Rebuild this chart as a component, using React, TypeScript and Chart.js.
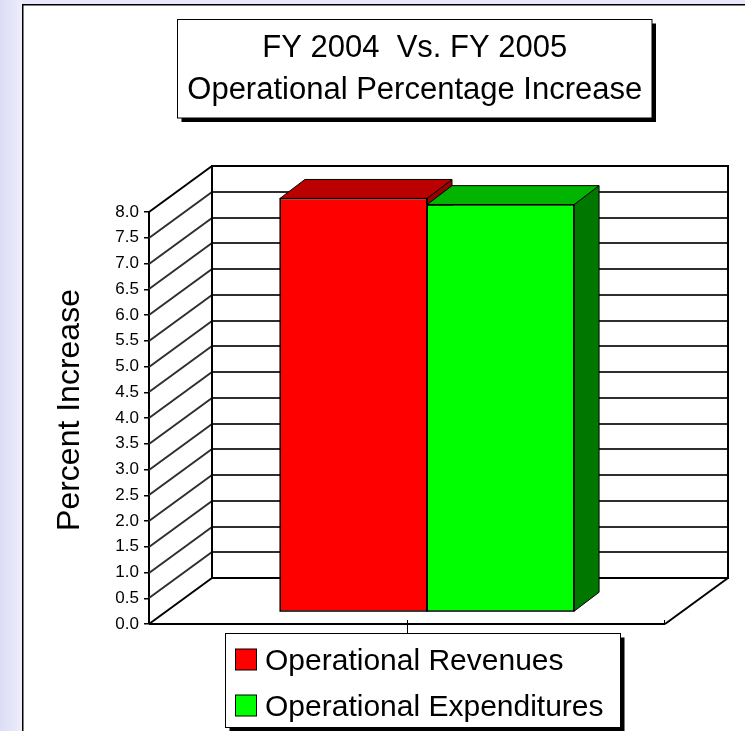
import React, { useEffect, useRef } from 'react';
import { Chart, registerables } from 'chart.js';

Chart.register(...registerables);

// ---------- data ----------
const categories = ['FY 2004 Vs. FY 2005'];
const seriesNames = ['Operational Revenues', 'Operational Expenditures'];
const revenues = [8.03];
const expenditures = [7.91];
const yTickValues = [0, 0.5, 1, 1.5, 2, 2.5, 3, 3.5, 4, 4.5, 5, 5.5, 6, 6.5, 7, 7.5, 8];
const titleLines = ['FY 2004  Vs. FY 2005', 'Operational Percentage Increase'];
const yAxisTitle = 'Percent Increase';

// ---------- styles ----------
const FONT = '"Liberation Sans", Arial, Helvetica, sans-serif';
const frontColors = ['#FF0000', '#00FF00'];
const topColors = ['#BB0000', '#00B400'];
const sideColors = ['#9A0000', '#007800'];

const WALL_DX = 63;
const WALL_DY = -46;
const BAR_DX = 20;
const BAR_DY = -12;
const BAR_DEPTH_DX = 25;
const BAR_DEPTH_DY = -19;

const line = (ctx: CanvasRenderingContext2D, x1: number, y1: number, x2: number, y2: number) => {
  ctx.beginPath();
  ctx.moveTo(x1, y1);
  ctx.lineTo(x2, y2);
  ctx.stroke();
};

const poly = (ctx: CanvasRenderingContext2D, pts: number[][], fill: string) => {
  ctx.beginPath();
  ctx.moveTo(pts[0][0], pts[0][1]);
  for (let i = 1; i < pts.length; i++) ctx.lineTo(pts[i][0], pts[i][1]);
  ctx.closePath();
  ctx.fillStyle = fill;
  ctx.fill();
  ctx.strokeStyle = '#000';
  ctx.lineWidth = 1;
  ctx.stroke();
};

const backgroundPlugin = {
  id: 'panelBackground',
  beforeDraw(chart: any) {
    const { ctx, width: W, height: H } = chart;
    ctx.save();
    const g = ctx.createLinearGradient(0, 0, 23, 0);
    g.addColorStop(0, '#DCDCF5');
    g.addColorStop(1, '#EEEEFD');
    ctx.fillStyle = g;
    ctx.fillRect(0, 0, W, H);
    ctx.fillStyle = '#E8E8FA';
    ctx.fillRect(23, 0, W, 5);
    ctx.fillStyle = '#FFFFFF';
    ctx.fillRect(23, 5, W, H);
    ctx.strokeStyle = '#000';
    ctx.lineWidth = 1.5;
    ctx.beginPath();
    ctx.moveTo(22.75, H + 2);
    ctx.lineTo(22.75, 4.75);
    ctx.lineTo(W + 2, 4.75);
    ctx.stroke();
    ctx.restore();
  },
};

const threeDPlugin = {
  id: 'threeD',
  beforeDatasetsDraw(chart: any) {
    const { ctx, chartArea } = chart;
    const ys = chart.scales.y;
    const xs = chart.scales.x;
    const L = chartArea.left;
    const R = chartArea.right;
    const B = ys.getPixelForValue(yTickValues[0]);
    const T = ys.getPixelForValue(yTickValues[yTickValues.length - 1]);
    ctx.save();
    // back wall & side wall grid
    ctx.strokeStyle = '#2E2E2E';
    ctx.lineWidth = 2;
    for (let i = 1; i < yTickValues.length - 1; i++) {
      const yf = Math.round(ys.getPixelForValue(yTickValues[i]));
      line(ctx, L + WALL_DX, yf + WALL_DY, R + WALL_DX, yf + WALL_DY);
      line(ctx, L, yf, L + WALL_DX, yf + WALL_DY);
    }
    // frame
    ctx.strokeStyle = '#000';
    ctx.lineWidth = 2;
    line(ctx, L, T, L + WALL_DX, T + WALL_DY);
    line(ctx, L, B, L + WALL_DX, B + WALL_DY);
    ctx.strokeRect(L + WALL_DX, T + WALL_DY, R - L, B - T);
    line(ctx, L, B, R, B);
    line(ctx, R, B, R + WALL_DX, B + WALL_DY);
    // x ticks
    ctx.lineWidth = 1;
    const cx = Math.round(xs.getPixelForValue(0)) + 0.5;
    line(ctx, cx, B - 4, cx, B + 9);
    line(ctx, R - 0.5, B - 4, R - 0.5, B);

    // bars (front, side, top) left-to-right for correct overlap
    ctx.translate(BAR_DX, BAR_DY);
    const metas = chart.getSortedVisibleDatasetMetas().slice().sort((a: any, b: any) => a.index - b.index);
    for (const meta of metas) {
      for (const el of meta.data) {
        const { x, y, width, base } = el.getProps(['x', 'y', 'width', 'base'], true);
        const l = x - width / 2;
        const r = x + width / 2;
        el.draw(ctx);
        poly(ctx, [[r, y], [r + BAR_DEPTH_DX, y + BAR_DEPTH_DY], [r + BAR_DEPTH_DX, base + BAR_DEPTH_DY], [r, base]], sideColors[meta.index]);
        poly(ctx, [[l, y], [r, y], [r + BAR_DEPTH_DX, y + BAR_DEPTH_DY], [l + BAR_DEPTH_DX, y + BAR_DEPTH_DY]], topColors[meta.index]);
        ctx.strokeStyle = '#000';
        ctx.lineWidth = 1;
        ctx.strokeRect(l, y, width, base - y);
      }
    }
    ctx.restore();
    return false;
  },
};

const textPlugin = {
  id: 'boxesAndText',
  afterDraw(chart: any) {
    const { ctx } = chart;
    ctx.save();
    // title box
    const tx = 177.5, ty = 19.5, tw = 474.5, th = 98.5;
    ctx.fillStyle = '#000';
    ctx.fillRect(tx + 4, ty + 4, tw, th);
    ctx.fillStyle = '#fff';
    ctx.fillRect(tx, ty, tw, th);
    ctx.strokeStyle = '#000';
    ctx.lineWidth = 1;
    ctx.strokeRect(tx, ty, tw, th);
    ctx.fillStyle = '#000';
    ctx.font = `31px ${FONT}`;
    ctx.textAlign = 'center';
    ctx.textBaseline = 'alphabetic';
    ctx.fillText(titleLines[0], tx + tw / 2, 57);
    ctx.fillText(titleLines[1], tx + tw / 2, 99);

    // y axis title
    ctx.save();
    ctx.translate(70, 410);
    ctx.rotate(-Math.PI / 2);
    ctx.font = `32px ${FONT}`;
    ctx.textAlign = 'center';
    ctx.textBaseline = 'middle';
    ctx.fillText(yAxisTitle, 0, 0);
    ctx.restore();

    // legend box
    const lx = 225.5, ly = 633.5, lw = 395, lh = 94;
    ctx.fillStyle = '#000';
    ctx.fillRect(lx + 4, ly + 4, lw, lh);
    ctx.fillStyle = '#fff';
    ctx.fillRect(lx, ly, lw, lh);
    ctx.strokeStyle = '#000';
    ctx.lineWidth = 1;
    ctx.strokeRect(lx, ly, lw, lh);
    ctx.font = `30px ${FONT}`;
    ctx.textAlign = 'left';
    ctx.textBaseline = 'alphabetic';
    chart.data.datasets.forEach((ds: any, i: number) => {
      const baseY = 670 + i * 46;
      ctx.fillStyle = ds.backgroundColor;
      ctx.fillRect(235.5, baseY - 21, 21, 21);
      ctx.strokeStyle = '#000';
      ctx.strokeRect(235.5, baseY - 21, 21, 21);
      ctx.fillStyle = '#000';
      ctx.fillText(ds.label, 265, baseY);
    });
    ctx.restore();
  },
};

export default function App() {
  const ref = useRef<HTMLCanvasElement>(null);
  useEffect(() => {
    const chart = new Chart(ref.current as HTMLCanvasElement, {
      type: 'bar',
      data: {
        labels: categories,
        datasets: [
          {
            label: seriesNames[0],
            data: revenues,
            backgroundColor: frontColors[0],
            borderColor: '#000',
            borderWidth: 1,
            borderSkipped: false,
            categoryPercentage: 0.57,
            barPercentage: 1,
          },
          {
            label: seriesNames[1],
            data: expenditures,
            backgroundColor: frontColors[1],
            borderColor: '#000',
            borderWidth: 1,
            borderSkipped: false,
            categoryPercentage: 0.57,
            barPercentage: 1,
          },
        ],
      },
      options: {
        responsive: false,
        animation: false,
        events: [],
        layout: { padding: { left: 47, top: 212, right: 80, bottom: 107 } },
        plugins: {
          legend: { display: false },
          title: { display: false },
          tooltip: { enabled: false },
        },
        scales: {
          x: { display: false, offset: true },
          y: {
            min: 0,
            max: 8,
            afterBuildTicks: (scale: any) => {
              scale.ticks = yTickValues.map((v) => ({ value: v }));
            },
            afterFit: (scale: any) => {
              scale.width = 102;
            },
            ticks: {
              color: '#000',
              padding: 5,
              font: { family: FONT, size: 17 },
              callback: (v: any) => Number(v).toFixed(1),
            },
            grid: {
              drawOnChartArea: false,
              drawTicks: true,
              tickLength: 5,
              color: '#000',
              lineWidth: 1.5,
            },
            border: { display: true, color: '#000', width: 2 },
          },
        },
      },
      plugins: [backgroundPlugin, threeDPlugin, textPlugin],
    } as any);
    return () => chart.destroy();
  }, []);
  return (
    <div style={{ position: 'fixed', left: 0, top: 0, width: 745, height: 731 }}>
      <canvas ref={ref} width={745} height={731} style={{ display: 'block' }} />
    </div>
  );
}
